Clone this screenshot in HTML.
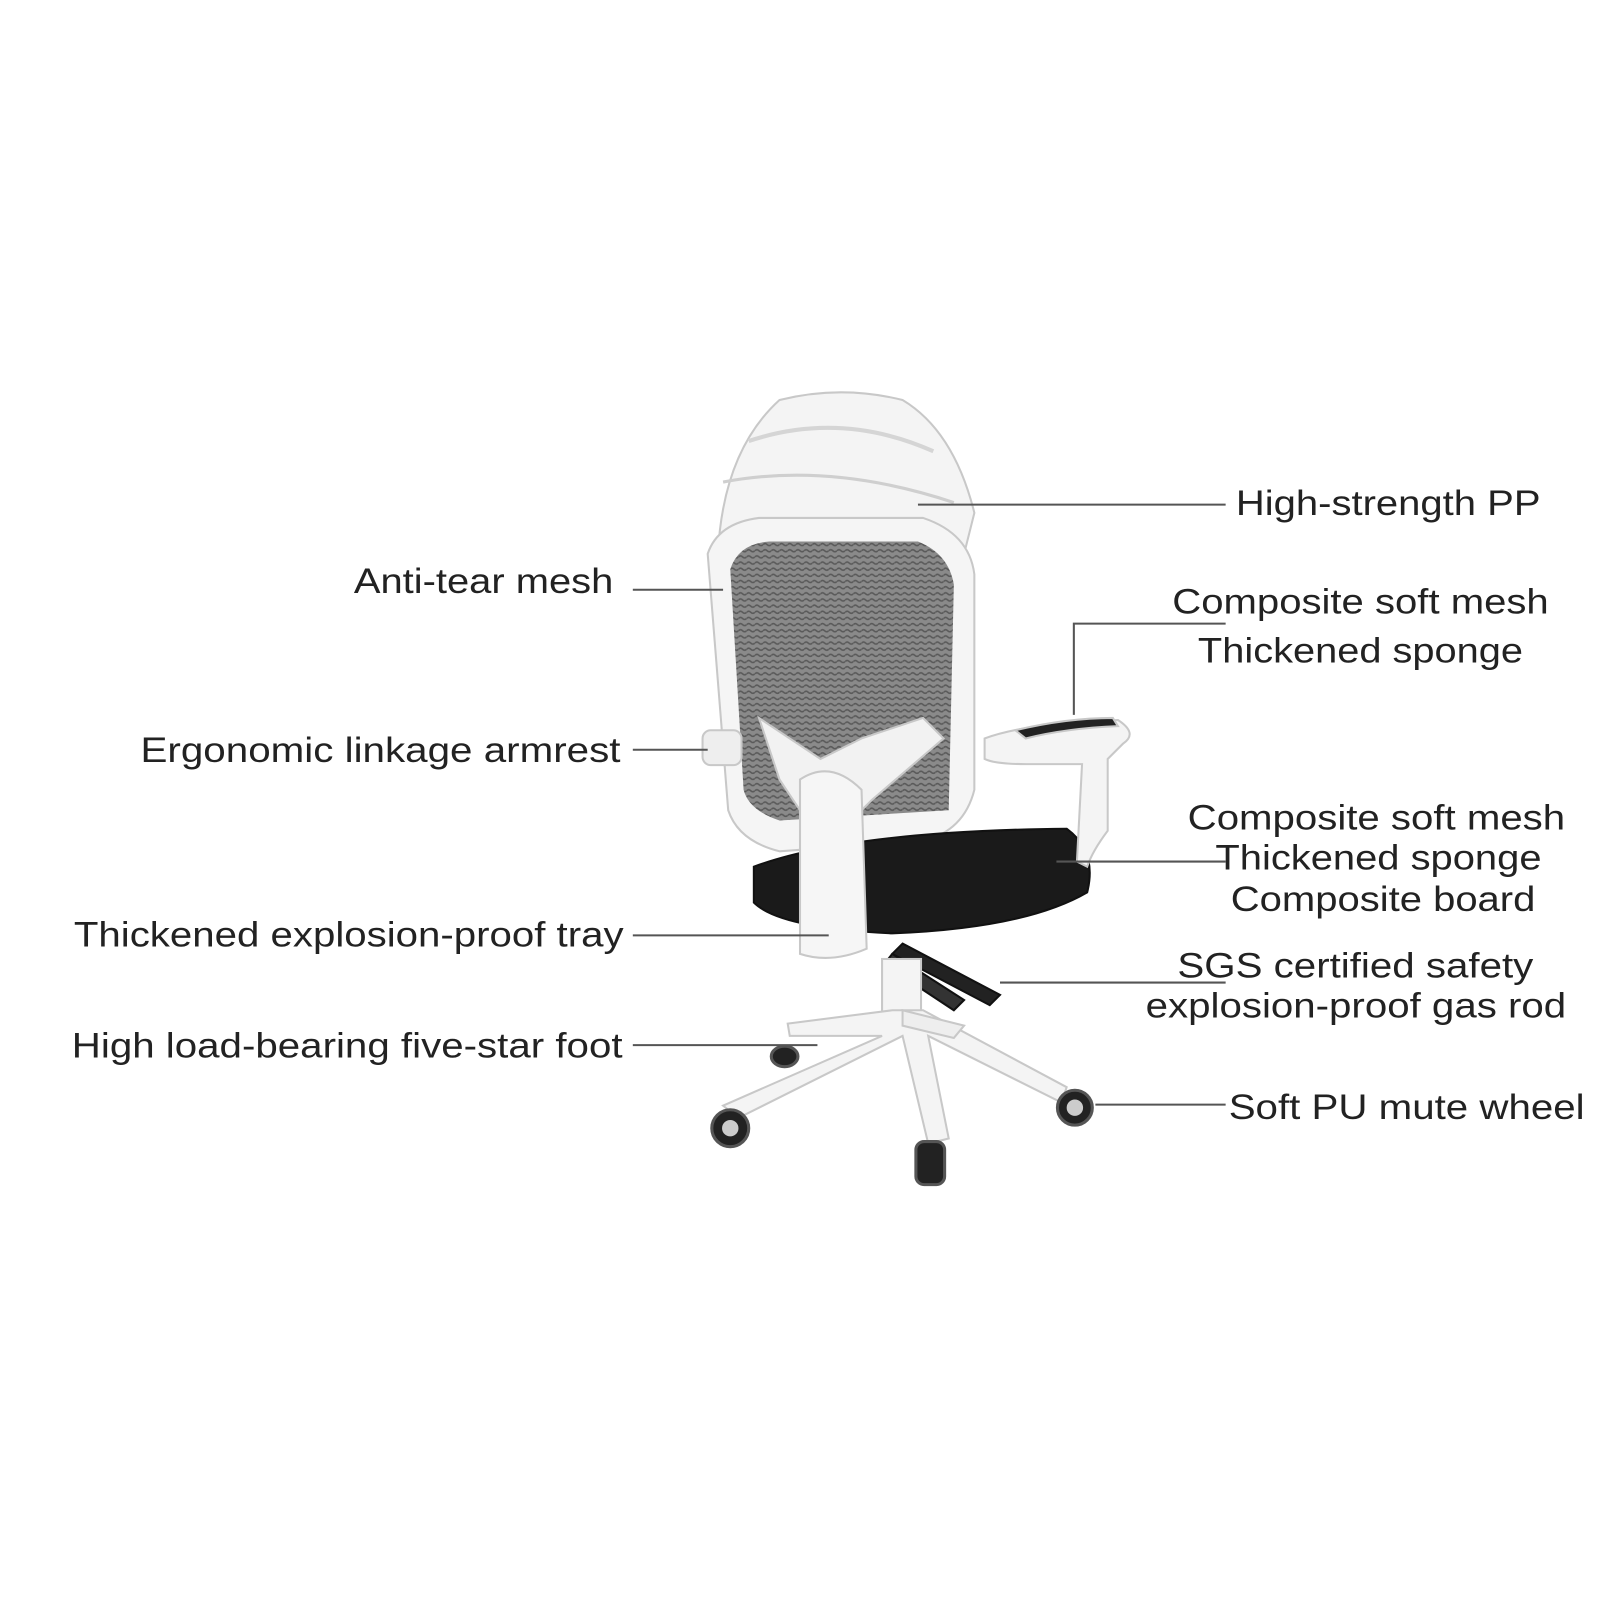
<!DOCTYPE html>
<html><head><meta charset="utf-8"><style>
html,body{margin:0;padding:0;background:#fff;}
svg{display:block;}
text{font-family:"Liberation Sans",Arial,sans-serif;font-size:34px;fill:#222;}
</style></head><body>
<svg width="1600" height="1600" viewBox="0 0 1560 1560" xmlns="http://www.w3.org/2000/svg">
<defs>
<pattern id="mesh" width="8" height="6" patternUnits="userSpaceOnUse">
<rect width="8" height="6" fill="#8a8a8a"/><path d="M0 3 Q2 1 4 3 T8 3" stroke="#5a5a5a" stroke-width="1.5" fill="none"/>
</pattern>
</defs>
<!-- chair -->
<g stroke="#c8c8c8" stroke-width="2">
<!-- headrest -->
<path d="M700 540 Q705 440 760 390 Q820 375 880 390 Q930 420 950 500 L940 540 Z" fill="#f4f4f4"/>
<path d="M730 430 Q820 400 910 440" fill="none" stroke="#d5d5d5" stroke-width="4"/>
<path d="M705 470 Q810 450 930 490" fill="none" stroke="#cfcfcf" stroke-width="3"/>
<!-- back frame -->
<path d="M690 540 Q700 510 740 505 L900 505 Q945 520 950 560 L950 770 Q940 810 900 820 L760 830 Q720 820 710 790 Z" fill="#f5f5f5"/>
<path d="M712 555 Q720 530 750 528 L895 528 Q925 540 930 570 L925 790 L760 800 Q730 790 725 770 Z" fill="url(#mesh)" stroke="none"/>
<!-- seat -->
<path d="M735 845 Q830 810 1040 808 Q1070 830 1060 870 Q1000 905 870 910 Q760 905 735 880 Z" fill="#1a1a1a" stroke="#111"/>
<!-- Y support -->
<path d="M740 700 L800 740 L840 720 L900 700 L920 720 L850 780 L830 800 L780 790 L760 760 Z" fill="#f2f2f2"/>
<path d="M780 760 Q810 740 840 770 L845 925 Q810 940 780 930 Z" fill="#f6f6f6"/>
<!-- right armrest -->
<path d="M960 720 Q1000 705 1090 702 Q1110 715 1095 725 L1080 740 L1080 810 Q1065 830 1060 845 L1050 840 L1055 745 L1000 745 Q970 745 960 740 Z" fill="#f4f4f4"/>
<path d="M990 712 Q1040 700 1085 700 L1090 708 Q1040 710 1000 720 Z" fill="#222"/>
<!-- left armrest -->
<rect x="685" y="712" width="38" height="34" rx="8" fill="#eee"/>
<!-- gas lever -->
<path d="M880 920 L975 970 L965 980 L870 930 Z" fill="#222" stroke="#111"/>
<path d="M870 930 L940 975 L930 985 L862 940 Z" fill="#333" stroke="#111"/>
<!-- cylinder -->
<rect x="860" y="935" width="38" height="55" fill="#f4f4f4"/>
<!-- base -->
<path d="M870 985 L900 985 L1040 1060 L1035 1075 L905 1010 L925 1110 L905 1115 L880 1010 L720 1090 L705 1078 L860 1010 L770 1010 L768 998 Z" fill="#f4f4f4"/>
<path d="M880 985 L940 1000 L930 1012 L880 1000 Z" fill="#eee"/>
</g>
<g fill="#222" stroke="#555" stroke-width="3">
<circle cx="712" cy="1100" r="18"/><circle cx="1048" cy="1080" r="17"/>
<rect x="893" y="1113" width="28" height="42" rx="8"/>
<ellipse cx="765" cy="1030" rx="13" ry="10"/>
</g>
<g fill="#ccc"><circle cx="712" cy="1100" r="8"/><circle cx="1048" cy="1080" r="8"/></g>
<!-- leader lines -->
<g stroke="#555" stroke-width="2" fill="none">
<path d="M895 492 H1195"/>
<path d="M617 575 H705"/>
<path d="M1195 608 H1047 V697"/>
<path d="M617 731 H690"/>
<path d="M1030 840 H1195"/>
<path d="M617 912 H808"/>
<path d="M975 958 H1195"/>
<path d="M617 1019 H797"/>
<path d="M1068 1077 H1195"/>
</g>
<!-- labels -->
<text x="1205" y="502" textLength="297" lengthAdjust="spacingAndGlyphs">High-strength PP</text>
<text x="345" y="578" textLength="253" lengthAdjust="spacingAndGlyphs">Anti-tear mesh</text>
<text x="1143" y="598" textLength="367" lengthAdjust="spacingAndGlyphs">Composite soft mesh</text>
<text x="1168" y="646" textLength="317" lengthAdjust="spacingAndGlyphs">Thickened sponge</text>
<text x="137" y="743" textLength="468" lengthAdjust="spacingAndGlyphs">Ergonomic linkage armrest</text>
<text x="1158" y="809" textLength="368" lengthAdjust="spacingAndGlyphs">Composite soft mesh</text>
<text x="1185" y="848" textLength="318" lengthAdjust="spacingAndGlyphs">Thickened sponge</text>
<text x="1200" y="888" textLength="297" lengthAdjust="spacingAndGlyphs">Composite board</text>
<text x="72" y="923" textLength="536" lengthAdjust="spacingAndGlyphs">Thickened explosion-proof tray</text>
<text x="1148" y="953" textLength="347" lengthAdjust="spacingAndGlyphs">SGS certified safety</text>
<text x="1117" y="992" textLength="410" lengthAdjust="spacingAndGlyphs">explosion-proof gas rod</text>
<text x="70" y="1031" textLength="537" lengthAdjust="spacingAndGlyphs">High load-bearing five-star foot</text>
<text x="1198" y="1091" textLength="347" lengthAdjust="spacingAndGlyphs">Soft PU mute wheel</text>
</svg>
</body></html>
